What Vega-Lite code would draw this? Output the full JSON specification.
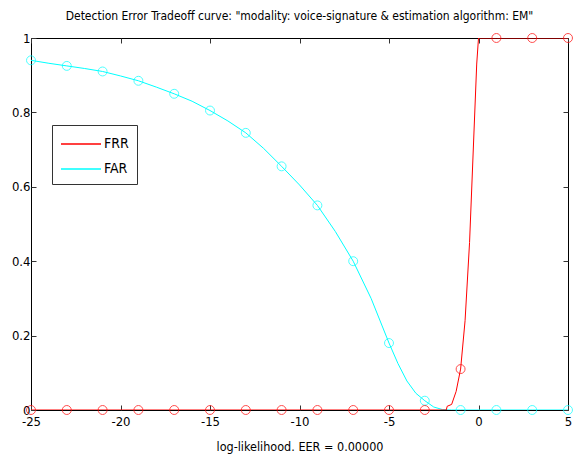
{
  "$schema": "https://vega.github.io/schema/vega-lite/v6.json",
  "width": 537,
  "height": 372,
  "autosize": {"type": "none"},
  "padding": {"left": 31, "top": 38, "right": 5, "bottom": 49},
  "background": "white",
  "config": {
    "view": {"stroke": "#000", "strokeWidth": 1},
    "font": "DejaVu Sans Condensed, Liberation Sans",
    "axis": {"grid": false, "domain": false, "tickColor": "#333", "tickSize": -5, "labelFont": "DejaVu Sans Condensed, Liberation Sans", "labelFontSize": 13, "labelColor": "#000", "titleFont": "DejaVu Sans Condensed, Liberation Sans", "titleFontSize": 12.5, "titleFontWeight": "normal", "titleColor": "#000", "labelFlush": false, "labelOverlap": false, "labelBound": false}
  },
  "title": {"text": "Detection Error Tradeoff curve: \"modality: voice-signature & estimation algorithm: EM\"", "font": "DejaVu Sans Condensed, Liberation Sans", "fontSize": 12, "fontWeight": "normal", "color": "#000", "offset": 9},
  "datasets": {
    "curve": [
      {"x": -25, "y": 0.94, "s": "FAR"}, {"x": -24, "y": 0.932, "s": "FAR"}, {"x": -23, "y": 0.925, "s": "FAR"}, {"x": -22, "y": 0.918, "s": "FAR"}, {"x": -21, "y": 0.91, "s": "FAR"}, {"x": -20, "y": 0.898, "s": "FAR"}, {"x": -19, "y": 0.885, "s": "FAR"}, {"x": -18, "y": 0.868, "s": "FAR"}, {"x": -17, "y": 0.85, "s": "FAR"}, {"x": -16, "y": 0.83, "s": "FAR"}, {"x": -15, "y": 0.805, "s": "FAR"}, {"x": -14, "y": 0.777, "s": "FAR"}, {"x": -13, "y": 0.745, "s": "FAR"}, {"x": -12, "y": 0.703, "s": "FAR"}, {"x": -11, "y": 0.655, "s": "FAR"}, {"x": -10, "y": 0.605, "s": "FAR"}, {"x": -9, "y": 0.55, "s": "FAR"}, {"x": -8, "y": 0.48, "s": "FAR"}, {"x": -7, "y": 0.4, "s": "FAR"}, {"x": -6, "y": 0.3, "s": "FAR"}, {"x": -5, "y": 0.18, "s": "FAR"}, {"x": -4.5, "y": 0.125, "s": "FAR"}, {"x": -4, "y": 0.078, "s": "FAR"}, {"x": -3.5, "y": 0.045, "s": "FAR"}, {"x": -3, "y": 0.025, "s": "FAR"}, {"x": -2.5, "y": 0.008, "s": "FAR"}, {"x": -2, "y": 0.001, "s": "FAR"}, {"x": -1.5, "y": 0, "s": "FAR"}, {"x": -1, "y": 0, "s": "FAR"}, {"x": 1, "y": 0, "s": "FAR"}, {"x": 3, "y": 0, "s": "FAR"}, {"x": 5, "y": 0, "s": "FAR"},
      {"x": -25, "y": 0, "s": "FRR"}, {"x": -15, "y": 0, "s": "FRR"}, {"x": -5, "y": 0, "s": "FRR"}, {"x": -1.8, "y": 0, "s": "FRR"}, {"x": -1.75, "y": 0.01, "s": "FRR"}, {"x": -1.5, "y": 0.015, "s": "FRR"}, {"x": -1.25, "y": 0.05, "s": "FRR"}, {"x": -1, "y": 0.11, "s": "FRR"}, {"x": -0.75, "y": 0.24, "s": "FRR"}, {"x": -0.5, "y": 0.45, "s": "FRR"}, {"x": -0.25, "y": 0.75, "s": "FRR"}, {"x": -0.1, "y": 0.93, "s": "FRR"}, {"x": 0, "y": 1, "s": "FRR"}, {"x": 1, "y": 1, "s": "FRR"}, {"x": 3, "y": 1, "s": "FRR"}, {"x": 5, "y": 1, "s": "FRR"}
    ],
    "markers": [
      {"x": -25, "y": 0.94, "s": "FAR"}, {"x": -23, "y": 0.925, "s": "FAR"}, {"x": -21, "y": 0.91, "s": "FAR"}, {"x": -19, "y": 0.885, "s": "FAR"}, {"x": -17, "y": 0.85, "s": "FAR"}, {"x": -15, "y": 0.805, "s": "FAR"}, {"x": -13, "y": 0.745, "s": "FAR"}, {"x": -11, "y": 0.655, "s": "FAR"}, {"x": -9, "y": 0.55, "s": "FAR"}, {"x": -7, "y": 0.4, "s": "FAR"}, {"x": -5, "y": 0.18, "s": "FAR"}, {"x": -3, "y": 0.025, "s": "FAR"}, {"x": -1, "y": 0, "s": "FAR"}, {"x": 1, "y": 0, "s": "FAR"}, {"x": 3, "y": 0, "s": "FAR"}, {"x": 5, "y": 0, "s": "FAR"},
      {"x": -25, "y": 0, "s": "FRR"}, {"x": -23, "y": 0, "s": "FRR"}, {"x": -21, "y": 0, "s": "FRR"}, {"x": -19, "y": 0, "s": "FRR"}, {"x": -17, "y": 0, "s": "FRR"}, {"x": -15, "y": 0, "s": "FRR"}, {"x": -13, "y": 0, "s": "FRR"}, {"x": -11, "y": 0, "s": "FRR"}, {"x": -9, "y": 0, "s": "FRR"}, {"x": -7, "y": 0, "s": "FRR"}, {"x": -5, "y": 0, "s": "FRR"}, {"x": -3, "y": 0, "s": "FRR"}, {"x": -1, "y": 0.11, "s": "FRR"}, {"x": 1, "y": 1, "s": "FRR"}, {"x": 3, "y": 1, "s": "FRR"}, {"x": 5, "y": 1, "s": "FRR"}
    ]
  },
  "layer": [
    {
      "data": {"name": "curve"},
      "mark": {"type": "line", "strokeWidth": 1, "clip": true},
      "encoding": {
        "x": {"field": "x", "type": "quantitative", "scale": {"domain": [-25, 5], "nice": false, "zero": false}, "axis": {"values": [-25, -20, -15, -10, -5, 0, 5], "title": "log-likelihood. EER = 0.00000", "labelPadding": 10, "titlePadding": 12, "labelExpr": "datum.value < 0 ? '-' + abs(datum.value) : '' + datum.value"}},
        "y": {"field": "y", "type": "quantitative", "scale": {"domain": [0, 1], "nice": false}, "axis": {"values": [0, 0.2, 0.4, 0.6, 0.8, 1], "title": null, "labelPadding": 6, "labelExpr": "'' + datum.value"}},
        "color": {"field": "s", "type": "nominal", "scale": {"domain": ["FRR", "FAR"], "range": ["#ff0000", "#00ffff"]},
          "legend": {"title": null, "orient": "none", "legendX": 21, "legendY": 87, "symbolType": "M-2,0H2", "symbolSize": 400, "symbolOffset": 10, "symbolStrokeWidth": 1.5, "strokeColor": "#333", "padding": 8, "labelFont": "DejaVu Sans Condensed, Liberation Sans", "labelFontSize": 14, "labelColor": "#000", "rowPadding": 7, "labelOffset": 12}},
        "order": {"field": "x", "type": "quantitative"}
      }
    },
    {
      "data": {"name": "markers"},
      "mark": {"type": "point", "filled": false, "size": 80, "strokeWidth": 1, "clip": false},
      "encoding": {
        "x": {"field": "x", "type": "quantitative", "axis": {"orient": "top", "values": [-25, -20, -15, -10, -5, 0, 5], "labels": false, "title": null}},
        "y": {"field": "y", "type": "quantitative", "axis": {"orient": "right", "values": [0, 0.2, 0.4, 0.6, 0.8, 1], "labels": false, "title": null}},
        "stroke": {"field": "s", "type": "nominal", "scale": {"domain": ["FRR", "FAR"], "range": ["#ff0000", "#00ffff"]}, "legend": null}
      }
    }
  ],
  "resolve": {"axis": {"x": "independent", "y": "independent"}}
}
